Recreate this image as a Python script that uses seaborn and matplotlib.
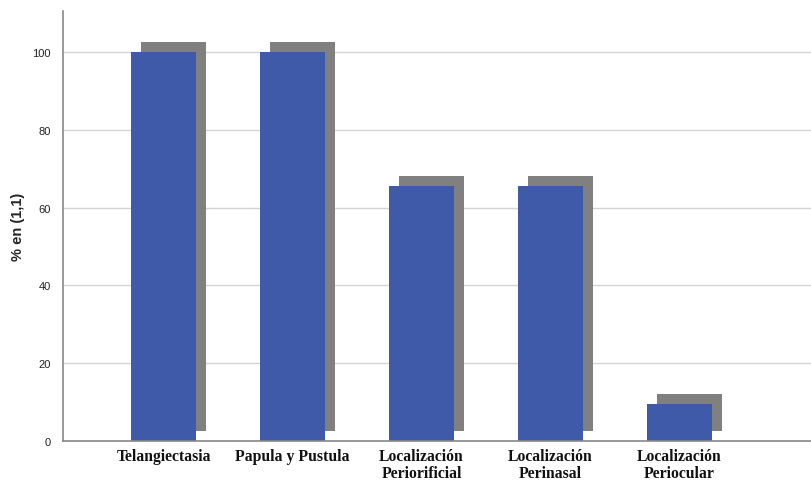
import matplotlib
matplotlib.use("Agg")
import matplotlib.pyplot as plt
import matplotlib.patheffects as pe
import seaborn as sns
import pandas as pd

categories = ["Telangiectasia", "Papula y Pustula", "Localización\nPeriorificial",
              "Localización\nPerinasal", "Localización\nPeriocular"]
percent = [100.0, 100.0, 65.6, 65.6, 9.4]
y_ticks = [0, 20, 40, 60, 80, 100]

df = pd.DataFrame({"cat": categories, "pct": percent})

sns.set_style("white")
plt.rcParams["font.family"] = ["Liberation Sans", "DejaVu Sans"]

fig = plt.figure(figsize=(8.11, 4.81), dpi=100)
ax = fig.add_axes([0.0777, 0.081, 0.9223, 0.894])

sns.barplot(data=df, x="cat", y="pct", color="#3F5AA8", saturation=1,
            width=0.5, ax=ax, errorbar=None)

# SPSS-style drop shadow behind each bar
for p in ax.patches:
    p.set_edgecolor("none")
    p.set_path_effects([pe.SimplePatchShadow(offset=(7.2, 7.2), shadow_rgbFace="#808080",
                                             alpha=1.0), pe.Normal()])

ax.set_xlim(-0.78, 5.02)
ax.set_ylim(0, 110.5)
ax.set_yticks(y_ticks)
ax.yaxis.grid(True, color="#d4d4d4", linewidth=1)
ax.set_axisbelow(True)

ax.tick_params(axis="both", length=0)
ax.tick_params(axis="y", labelsize=8, pad=9, labelcolor="#222222")
ax.tick_params(axis="x", pad=5)
for lbl in ax.get_xticklabels():
    lbl.set_family(["Liberation Serif", "DejaVu Serif"])
    lbl.set_fontweight("bold")
    lbl.set_fontsize(11.3)
    lbl.set_linespacing(1.05)
    lbl.set_color("#111111")

ax.set_xlabel("")
ax.set_ylabel("% en (1,1)", fontsize=10.5, fontweight="bold")
ax.yaxis.set_label_coords(-0.051, 0.5)

for s in ["top", "right"]:
    ax.spines[s].set_visible(False)
for s in ["left", "bottom"]:
    ax.spines[s].set_color("#888888")
    ax.spines[s].set_linewidth(1.2)

fig.savefig("out.png", dpi=100)
plt.close(fig)
